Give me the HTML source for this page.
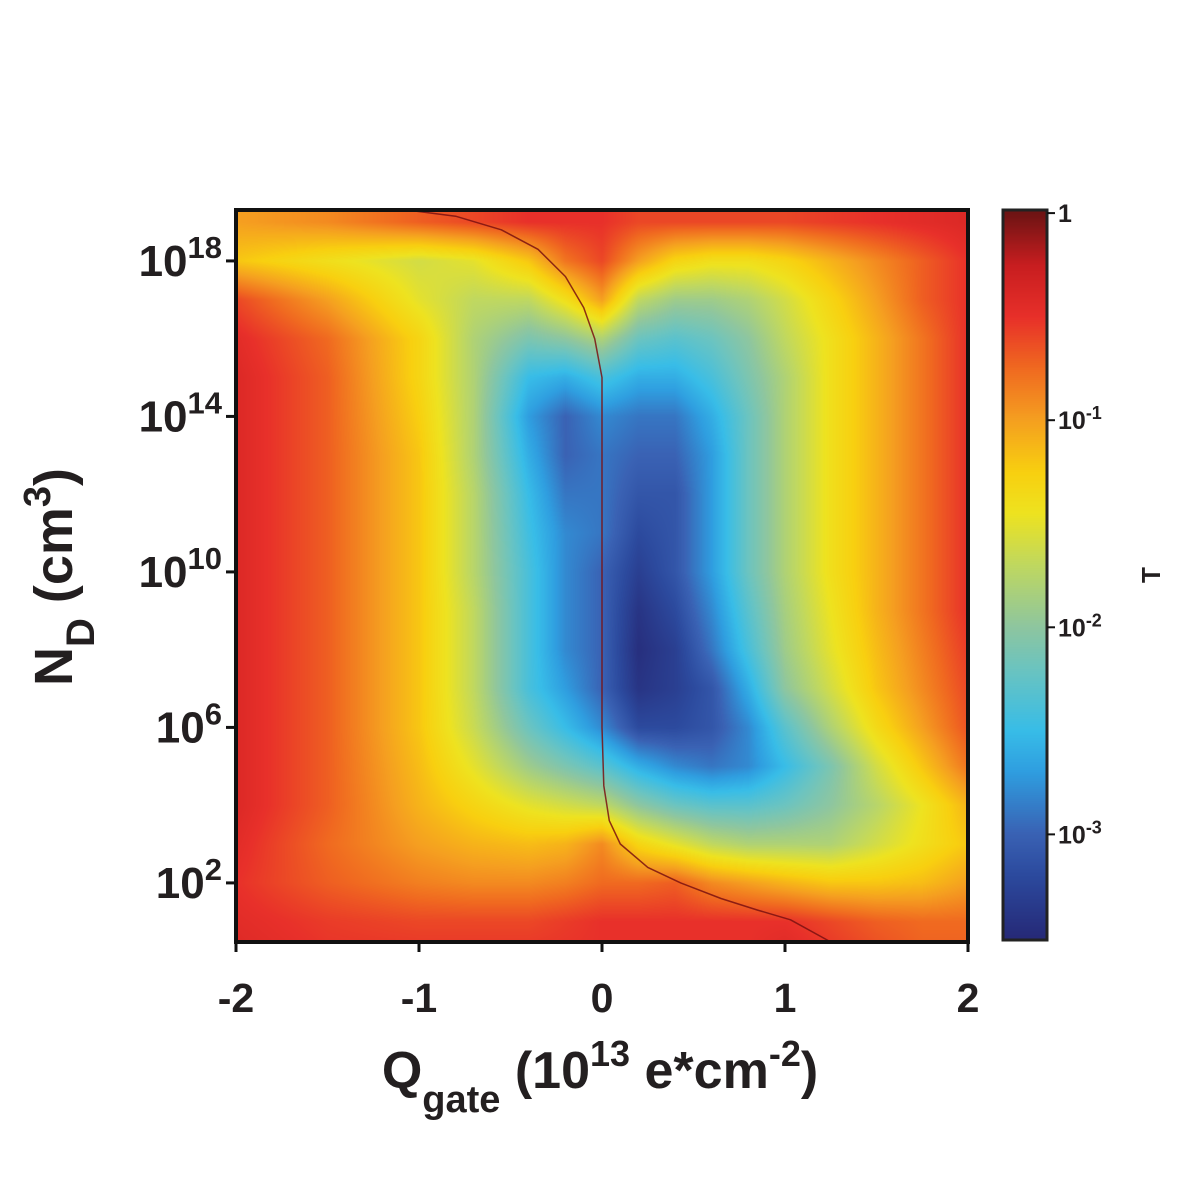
<!DOCTYPE html>
<html><head><meta charset="utf-8">
<style>
html,body{margin:0;padding:0;background:#fff;}
#wrap{position:relative;width:1188px;height:1188px;overflow:hidden;font-family:"Liberation Sans",sans-serif;}
canvas{position:absolute;}
svg{position:absolute;left:0;top:0;}
</style></head>
<body>
<div id="wrap">
<canvas id="heat" width="732" height="732" style="left:236px;top:210px"></canvas>
<canvas id="cbar" width="44" height="730" style="left:1003px;top:210px"></canvas>
<svg id="ax" width="1188" height="1188"></svg>
</div>
<script>
// ---- data ----
const xCols = [-2,-1.5,-1,-0.7,-0.4,-0.2,0,0.2,0.4,0.6,0.8,1,1.25,1.5,1.75,2];
const logNRows = [20,19,18,17,16,15,14,13,12,11,10,9,8,7,6,5,4,3,2,1,0];
const logT = [
[-1.0,-0.9,-0.7,-0.6,-0.5,-0.5,-0.5,-0.6,-0.6,-0.6,-0.6,-0.6,-0.55,-0.5,-0.45,-0.4],
[-1.0,-0.9,-0.7,-0.6,-0.5,-0.5,-0.5,-0.6,-0.6,-0.6,-0.6,-0.6,-0.55,-0.5,-0.45,-0.4],
[-1.2,-1.4,-1.6,-1.5,-1.2,-0.8,-0.6,-1.0,-1.3,-1.4,-1.4,-1.3,-1.1,-0.9,-0.7,-0.5],
[-0.6,-1.0,-1.5,-1.7,-1.7,-1.4,-1.0,-1.7,-1.9,-1.9,-1.8,-1.6,-1.3,-1.0,-0.7,-0.5],
[-0.45,-0.75,-1.3,-1.8,-2.1,-2.0,-1.8,-2.2,-2.3,-2.2,-2.0,-1.7,-1.4,-1.1,-0.8,-0.5],
[-0.4,-0.7,-1.3,-1.8,-2.5,-2.6,-2.4,-2.6,-2.6,-2.4,-2.1,-1.8,-1.4,-1.1,-0.8,-0.5],
[-0.4,-0.7,-1.25,-1.8,-2.7,-3.0,-2.8,-2.9,-2.9,-2.6,-2.2,-1.8,-1.4,-1.1,-0.8,-0.5],
[-0.4,-0.7,-1.2,-1.8,-2.6,-3.0,-2.9,-3.0,-3.0,-2.7,-2.2,-1.8,-1.4,-1.1,-0.8,-0.5],
[-0.4,-0.7,-1.2,-1.75,-2.5,-2.9,-2.9,-3.1,-3.1,-2.7,-2.2,-1.8,-1.4,-1.1,-0.8,-0.5],
[-0.4,-0.7,-1.2,-1.75,-2.45,-2.8,-2.9,-3.2,-3.1,-2.7,-2.2,-1.8,-1.4,-1.1,-0.8,-0.5],
[-0.4,-0.7,-1.2,-1.75,-2.4,-2.8,-3.0,-3.3,-3.1,-2.7,-2.2,-1.8,-1.4,-1.1,-0.8,-0.5],
[-0.4,-0.7,-1.2,-1.7,-2.4,-2.8,-3.0,-3.4,-3.2,-2.8,-2.3,-1.85,-1.45,-1.1,-0.8,-0.5],
[-0.4,-0.7,-1.2,-1.7,-2.4,-2.8,-3.0,-3.45,-3.3,-2.9,-2.4,-1.9,-1.5,-1.15,-0.85,-0.55],
[-0.4,-0.7,-1.2,-1.7,-2.4,-2.7,-3.0,-3.4,-3.3,-3.1,-2.6,-2.0,-1.6,-1.2,-0.9,-0.6],
[-0.4,-0.7,-1.2,-1.65,-2.2,-2.5,-2.8,-3.2,-3.2,-3.1,-2.8,-2.3,-1.8,-1.35,-1.0,-0.65],
[-0.4,-0.7,-1.15,-1.5,-1.9,-2.1,-2.3,-2.6,-2.8,-2.9,-2.8,-2.5,-2.1,-1.6,-1.2,-0.8],
[-0.4,-0.7,-1.1,-1.3,-1.5,-1.6,-1.7,-2.0,-2.2,-2.3,-2.3,-2.2,-2.0,-1.75,-1.45,-1.1],
[-0.45,-0.75,-1.0,-1.1,-1.15,-1.1,-0.9,-1.3,-1.5,-1.7,-1.8,-1.8,-1.8,-1.6,-1.4,-1.2],
[-0.5,-0.7,-0.85,-0.9,-0.9,-0.85,-0.75,-0.75,-0.7,-0.9,-1.0,-1.1,-1.2,-1.2,-1.15,-1.0],
[-0.45,-0.55,-0.6,-0.6,-0.6,-0.55,-0.5,-0.5,-0.5,-0.5,-0.5,-0.5,-0.6,-0.7,-0.75,-0.75],
[-0.4,-0.5,-0.5,-0.5,-0.5,-0.5,-0.5,-0.5,-0.5,-0.5,-0.5,-0.4,-0.5,-0.6,-0.7,-0.7]
];
const ridgeX = [-1.05,-0.8,-0.55,-0.35,-0.2,-0.1,-0.04,0,0,0,0.01,0.04,0.1,0.25,0.43,0.65,0.85,1.03,1.25];
const ridgeLogN = [19.3,19.15,18.8,18.3,17.6,16.8,16.0,15.0,10.0,6.0,4.5,3.6,3.0,2.4,2.0,1.6,1.3,1.05,0.48];
const xTicks = [-2,-1,0,1,2];
const xTickLabels = ["-2","-1","0","1","2"];
const yTicks = [18,14,10,6,2];
const cbTicks = [0,-1,-2,-3];
const cbTickLabels = ["1","10","10","10"];
const cbTickExp = ["","-1","-2","-3"];
// ---- scales ----
const PX0=236,PX1=968,PY0=210,PY1=942;
const X_MIN=-2,X_MAX=2,N_TOP=19.31,N_BOT=0.48;
function sx(x){return PX0+(x-X_MIN)/(X_MAX-X_MIN)*(PX1-PX0);}
function sy(l){return PY0+(N_TOP-l)/(N_TOP-N_BOT)*(PY1-PY0);}
const CB0=210,CB1=940,T_TOP=0.015,T_BOT=-3.51;
function cy(t){return CB0+(T_TOP-t)/(T_TOP-T_BOT)*(CB1-CB0);}
const stops=[[-3.5,[38,42,120]],[-3.2,[44,74,158]],[-3.0,[58,98,180]],[-2.7,[47,158,224]],[-2.5,[56,189,232]],[-2.2,[108,196,192]],[-2.0,[142,198,160]],[-1.7,[192,216,96]],[-1.45,[238,227,32]],[-1.25,[248,208,16]],[-1.0,[245,160,32]],[-0.75,[240,106,32]],[-0.5,[232,48,42]],[-0.25,[200,30,32]],[0,[110,20,20]]];
function cmap(v){
  if(v<=stops[0][0])return stops[0][1];
  for(let i=1;i<stops.length;i++){if(v<=stops[i][0]){const a=stops[i-1],b=stops[i];const f=(v-a[0])/(b[0]-a[0]);return [0,1,2].map(k=>a[1][k]+(b[1][k]-a[1][k])*f);}}
  return stops[stops.length-1][1];
}
function sample(x,l){
  let ci=0;while(ci<xCols.length-2&&x>xCols[ci+1])ci++;
  let fx=(x-xCols[ci])/(xCols[ci+1]-xCols[ci]);fx=Math.max(0,Math.min(1,fx));
  let ri=0;while(ri<logNRows.length-2&&l<logNRows[ri+1])ri++;
  let fy=(logNRows[ri]-l)/(logNRows[ri]-logNRows[ri+1]);fy=Math.max(0,Math.min(1,fy));
  const a=logT[ri][ci],b=logT[ri][ci+1],c=logT[ri+1][ci],d=logT[ri+1][ci+1];
  return (a*(1-fx)+b*fx)*(1-fy)+(c*(1-fx)+d*fx)*fy;
}
// heatmap
const hc=document.getElementById('heat').getContext('2d');
const img=hc.createImageData(732,732);
for(let py=0;py<732;py++){const l=N_TOP-(py+0.5)/732*(N_TOP-N_BOT);
  for(let px=0;px<732;px++){const x=X_MIN+(px+0.5)/732*(X_MAX-X_MIN);
    const c=cmap(sample(x,l));const o=(py*732+px)*4;img.data[o]=c[0];img.data[o+1]=c[1];img.data[o+2]=c[2];img.data[o+3]=255;}}
hc.putImageData(img,0,0);
// colorbar
const cc=document.getElementById('cbar').getContext('2d');
for(let py=0;py<730;py++){const t=T_TOP-(py+0.5)/730*(T_TOP-T_BOT);const c=cmap(t);cc.fillStyle=`rgb(${c[0]|0},${c[1]|0},${c[2]|0})`;cc.fillRect(0,py,44,1);}
// svg
const NS="http://www.w3.org/2000/svg";const svg=document.getElementById('ax');
function el(tag,attrs,parent){const e=document.createElementNS(NS,tag);for(const k in attrs)e.setAttribute(k,attrs[k]);(parent||svg).appendChild(e);return e;}
const ridge=el('path',{d:ridgeX.map((x,i)=>(i?'L':'M')+sx(x).toFixed(1)+','+sy(ridgeLogN[i]).toFixed(1)).join(''),fill:'none',stroke:'#7a1010','stroke-width':1.5,'stroke-linejoin':'round','stroke-opacity':0.85});


const frame=el('rect',{x:PX0,y:PY0,width:PX1-PX0,height:PY1-PY0,fill:'none',stroke:'#111','stroke-width':4});


const cbf=el('rect',{x:1003,y:CB0,width:44,height:CB1-CB0,fill:'none',stroke:'#222','stroke-width':3});


const TXT='#231f20';
xTicks.forEach((v,i)=>{
  const t=el('line',{x1:sx(v),x2:sx(v),y1:PY1,y2:PY1+10,stroke:'#111','stroke-width':3});
  
  
  const lb=el('text',{x:sx(v),y:1012,'text-anchor':'middle','font-size':41,'font-weight':'bold',fill:TXT});lb.textContent=xTickLabels[i];
  
  
});
yTicks.forEach(v=>{
  const t=el('line',{x1:PX0-10,x2:PX0,y1:sy(v),y2:sy(v),stroke:'#111','stroke-width':3});
  
  
  const lb=el('text',{x:222,y:sy(v)+15,'text-anchor':'end','font-size':44,'font-weight':'bold',fill:TXT});
  
  
  const b=el('tspan',{},lb);b.textContent='10';
  const s=el('tspan',{dy:-18,'font-size':31},lb);s.textContent=String(v);
});
cbTicks.forEach((v,i)=>{
  const t=el('line',{x1:1047,x2:1055,y1:cy(v),y2:cy(v),stroke:'#111','stroke-width':2});
  
  
  const lb=el('text',{x:1058,y:cy(v)+9,'font-size':25,'font-weight':'bold',fill:TXT});
  
  
  const b=el('tspan',{},lb);b.textContent=cbTickLabels[i];
  if(cbTickExp[i]){const s=el('tspan',{dy:-10,'font-size':18},lb);s.textContent=cbTickExp[i];}
});
</script>
<svg width="1188" height="1188" style="pointer-events:none">
<text x="600" y="1088" text-anchor="middle" font-family="Liberation Sans, sans-serif" font-size="52" font-weight="bold" fill="#231f20">Q<tspan dy="24" font-size="38">gate</tspan><tspan dy="-24"> (10</tspan><tspan dy="-22" font-size="36">13</tspan><tspan dy="22"> e*cm</tspan><tspan dy="-22" font-size="36">-2</tspan><tspan dy="22">)</tspan></text>
<text transform="translate(72,577) rotate(-90)" text-anchor="middle" font-family="Liberation Sans, sans-serif" font-size="54" font-weight="bold" fill="#231f20">N<tspan dy="22" font-size="40">D</tspan><tspan dy="-22"> (cm</tspan><tspan dy="-22" font-size="38">3</tspan><tspan dy="22">)</tspan></text>
<text transform="translate(1160,575) rotate(-90)" text-anchor="middle" font-family="Liberation Sans, sans-serif" font-size="26" font-weight="bold" fill="#231f20">T</text>
</svg>
</body></html>
